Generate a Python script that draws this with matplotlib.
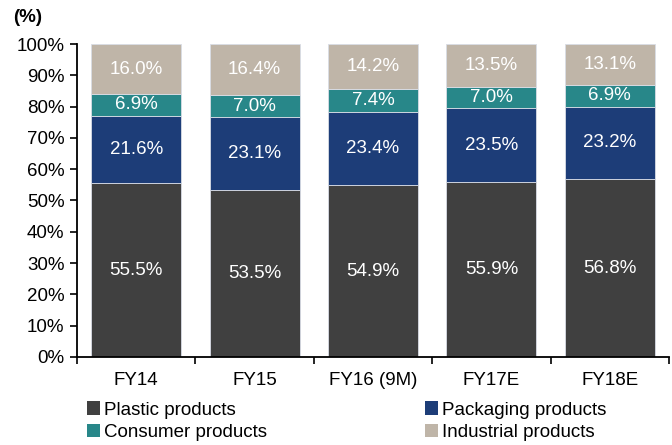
import matplotlib
matplotlib.use("Agg")
import matplotlib.pyplot as plt
from matplotlib.patches import Patch
import numpy as np

plt.rcParams['font.family'] = ['Liberation Sans', 'DejaVu Sans']

categories = ["FY14", "FY15", "FY16 (9M)", "FY17E", "FY18E"]
plastic = [55.5, 53.5, 54.9, 55.9, 56.8]
packaging = [21.6, 23.1, 23.4, 23.5, 23.2]
consumer = [6.9, 7.0, 7.4, 7.0, 6.9]
industrial = [16.0, 16.4, 14.2, 13.5, 13.1]

series = [
    ("Plastic products", plastic, "#404040"),
    ("Packaging products", packaging, "#1d3d78"),
    ("Consumer products", consumer, "#288789"),
    ("Industrial products", industrial, "#bfb5a8"),
]

fig = plt.figure(figsize=(6.72, 4.45), dpi=100)
ax = fig.add_axes([0.1146, 0.1978, 0.8809, 0.7033])

x = np.arange(len(categories))
bottom = np.zeros(len(categories))
FS = 13.5
for name, vals, color in series:
    vals = np.array(vals)
    ax.bar(x, vals, width=0.76, bottom=bottom, color=color,
           edgecolor="#d9dde6", linewidth=0.6, label=name)
    for xi, b, v in zip(x, bottom, vals):
        ax.text(xi, b + v / 2, f"{v:.1f}%", ha="center", va="center",
                color="white", fontsize=FS)
    bottom += vals

ax.set_xlim(-0.5, 4.5)
ax.set_ylim(0, 100)
ax.set_yticks(np.arange(0, 101, 10))
ax.set_yticklabels([f"{v}%" for v in range(0, 101, 10)], fontsize=FS)
ax.set_xticks(np.arange(-0.5, 4.6, 1.0))
ax.set_xticklabels([])
ax.set_xticks(x, minor=True)
ax.set_xticklabels(categories, minor=True, fontsize=FS)
ax.tick_params(axis="x", which="minor", length=0, pad=11)
ax.tick_params(axis="x", which="major", direction="out", length=5, width=1.2)
ax.tick_params(axis="y", direction="out", length=5, width=1.2, pad=4)
for s in ("top", "right"):
    ax.spines[s].set_visible(False)
for s in ("left", "bottom"):
    ax.spines[s].set_linewidth(1.3)

fig.text(0.02, 0.96, "(%)", fontsize=FS, fontweight="bold", ha="left", va="center")

handles = [Patch(facecolor=c) for _, _, c in series]
labels = [n for n, _, _ in series]
order = [0, 2, 1, 3]
fig.legend([handles[i] for i in order], [labels[i] for i in order],
           ncol=2, loc="upper left", bbox_to_anchor=(0.129, 0.098),
           frameon=False, fontsize=FS, handlelength=0.7, handleheight=0.7,
           handletextpad=0.2, columnspacing=8.44, labelspacing=0.3,
           borderpad=0, borderaxespad=0)

fig.savefig("out.png", dpi=100)
